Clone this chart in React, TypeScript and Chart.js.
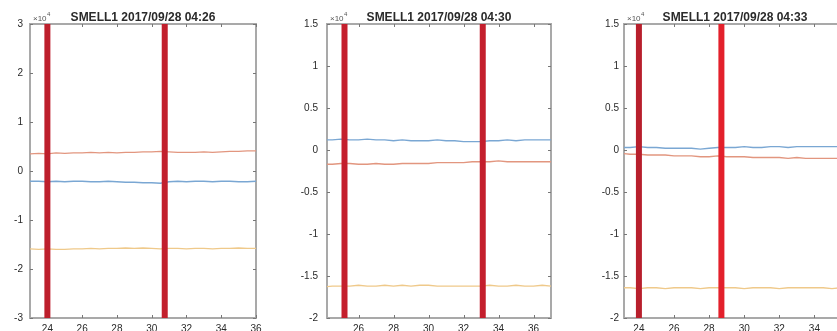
import React, { useEffect, useRef } from "react";
import { Chart, registerables } from "chart.js";
Chart.register(...registerables);

// ---- data (values in units of 10^4) ----
const xs = [23, 23.5, 24, 24.5, 25, 25.5, 26, 26.5, 27, 27.5, 28, 28.5, 29, 29.5, 30, 30.5, 31, 31.5, 32, 32.5, 33, 33.5, 34, 34.5, 35, 35.5, 36, 36.5, 37];

const titles = ["SMELL1 2017/09/28 04:26", "SMELL1 2017/09/28 04:30", "SMELL1 2017/09/28 04:33"];

const p1Red = [0.35, 0.36, 0.35, 0.37, 0.36, 0.37, 0.37, 0.38, 0.37, 0.38, 0.37, 0.38, 0.38, 0.39, 0.39, 0.40, 0.39, 0.38, 0.38, 0.38, 0.39, 0.38, 0.39, 0.40, 0.40, 0.41, 0.41, 0.41, 0.41];
const p1Blue = [-0.21, -0.21, -0.22, -0.21, -0.22, -0.21, -0.21, -0.22, -0.22, -0.21, -0.22, -0.23, -0.23, -0.24, -0.24, -0.25, -0.22, -0.21, -0.22, -0.21, -0.21, -0.22, -0.21, -0.21, -0.22, -0.22, -0.21, -0.21, -0.21];
const p1Yellow = [-1.59, -1.60, -1.59, -1.60, -1.60, -1.59, -1.59, -1.58, -1.59, -1.58, -1.58, -1.57, -1.58, -1.57, -1.58, -1.59, -1.58, -1.58, -1.59, -1.58, -1.58, -1.59, -1.58, -1.58, -1.57, -1.58, -1.58, -1.58, -1.58];

const p2Blue = [0.13, 0.13, 0.12, 0.12, 0.13, 0.12, 0.12, 0.13, 0.12, 0.12, 0.11, 0.12, 0.11, 0.11, 0.11, 0.12, 0.11, 0.11, 0.10, 0.10, 0.10, 0.11, 0.11, 0.12, 0.11, 0.12, 0.12, 0.12, 0.12];
const p2Red = [-0.17, -0.17, -0.17, -0.17, -0.16, -0.16, -0.17, -0.17, -0.16, -0.17, -0.17, -0.16, -0.16, -0.16, -0.16, -0.15, -0.15, -0.15, -0.15, -0.14, -0.14, -0.14, -0.13, -0.14, -0.14, -0.14, -0.14, -0.14, -0.14];
const p2Yellow = [-1.62, -1.62, -1.63, -1.62, -1.62, -1.62, -1.61, -1.62, -1.62, -1.61, -1.62, -1.61, -1.62, -1.61, -1.61, -1.62, -1.62, -1.62, -1.62, -1.62, -1.62, -1.61, -1.62, -1.62, -1.61, -1.62, -1.62, -1.61, -1.62];

const p3Blue = [0.03, 0.03, 0.04, 0.03, 0.03, 0.02, 0.02, 0.02, 0.02, 0.01, 0.02, 0.03, 0.03, 0.03, 0.04, 0.03, 0.03, 0.04, 0.04, 0.03, 0.04, 0.04, 0.04, 0.04, 0.04, 0.04, 0.04, 0.04, 0.04];
const p3Red = [-0.04, -0.05, -0.05, -0.06, -0.06, -0.06, -0.07, -0.07, -0.07, -0.08, -0.08, -0.07, -0.08, -0.08, -0.08, -0.09, -0.09, -0.09, -0.09, -0.10, -0.09, -0.10, -0.10, -0.10, -0.10, -0.10, -0.10, -0.10, -0.10];
const p3Yellow = [-1.64, -1.64, -1.65, -1.64, -1.64, -1.65, -1.64, -1.64, -1.64, -1.65, -1.64, -1.64, -1.64, -1.64, -1.65, -1.64, -1.64, -1.64, -1.65, -1.64, -1.64, -1.64, -1.64, -1.64, -1.65, -1.64, -1.64, -1.64, -1.64];

const p1Markers = [24.0, 30.75];
const p2Markers = [25.2, 33.1];
const p3Markers = [24.0, 28.7];

const p1XTicks = [24, 26, 28, 30, 32, 34, 36];
const p2XTicks = [26, 28, 30, 32, 34, 36];
const p3XTicks = [24, 26, 28, 30, 32, 34, 36];
const p1YTicks = [-3, -2, -1, 0, 1, 2, 3];
const p23YTicks = [-2, -1.5, -1, -0.5, 0, 0.5, 1, 1.5];

const p1XRange = [23, 36];
const p2XRange = [24.2, 37];
const p3XRange = [23.15, 35.8];
const p1YRange = [-3, 3];
const p23YRange = [-2, 1.5];

// ---- styles ----
const BLUE = "#7aa7d3";
const ORANGE = "#e2967f";
const YELLOW = "#efc98a";
const FRAME = "#a9a9a9";
const TEXT = "#2a2a2a";
const FONT = "'Liberation Sans', Arial, sans-serif";

type PanelCfg = {
  title: string;
  blue: number[];
  red: number[];
  yellow: number[];
  markers: number[];
  markerColors: string[];
  xTicks: number[];
  yTicks: number[];
  xRange: number[];
  yRange: number[];
  left: number;
  width: number;
  yAxisWidth: number;
  padRight: number;
  yPad: number;
};

const panels: PanelCfg[] = [
  { title: titles[0], blue: p1Blue, red: p1Red, yellow: p1Yellow, markers: p1Markers, markerColors: ["#bd1f2c", "#c2202d"], xTicks: p1XTicks, yTicks: p1YTicks, xRange: p1XRange, yRange: p1YRange, left: 0, width: 280, yAxisWidth: 30, padRight: 24, yPad: 7 },
  { title: titles[1], blue: p2Blue, red: p2Red, yellow: p2Yellow, markers: p2Markers, markerColors: ["#c41f2d", "#c41f2d"], xTicks: p2XTicks, yTicks: p23YTicks, xRange: p2XRange, yRange: p23YRange, left: 280, width: 290, yAxisWidth: 47, padRight: 19, yPad: 9 },
  { title: titles[2], blue: p3Blue, red: p3Red, yellow: p3Yellow, markers: p3Markers, markerColors: ["#b81f2c", "#e3202b"], xTicks: p3XTicks, yTicks: p23YTicks, xRange: p3XRange, yRange: p23YRange, left: 557, width: 310, yAxisWidth: 67, padRight: 21, yPad: 5 },
];

const CANVAS_H = 360;
const TOP = 24;
const BOTTOM = 318;

function Panel({ cfg }: { cfg: PanelCfg }) {
  const ref = useRef<HTMLCanvasElement>(null);
  useEffect(() => {
    if (!ref.current) return;
    const lineDs = (vals: number[], color: string) => ({
      type: "line" as const,
      data: xs.map((x, i) => ({ x, y: vals[i] })),
      borderColor: color,
      borderWidth: 1.4,
      pointRadius: 0,
      tension: 0,
      fill: false,
    });
    const markerDs = cfg.markers.map((m, i) => ({
      type: "line" as const,
      data: [
        { x: m, y: cfg.yRange[0] },
        { x: m, y: cfg.yRange[1] },
      ],
      borderColor: cfg.markerColors[i],
      borderWidth: 6,
      borderCapStyle: "butt" as const,
      pointRadius: 0,
      fill: false,
    }));

    const framePlugin = {
      id: "frame",
      beforeDatasetsDraw(chart: any) {
        const { ctx, chartArea: a, scales } = chart;
        ctx.save();
        ctx.strokeStyle = FRAME;
        ctx.lineWidth = 2;
        ctx.strokeRect(a.left, a.top, a.right - a.left, a.bottom - a.top);
        ctx.strokeStyle = "#777";
        ctx.lineWidth = 1;
        ctx.beginPath();
        for (const v of cfg.xTicks) {
          const px = Math.round(scales.x.getPixelForValue(v)) + 0.5;
          ctx.moveTo(px, a.bottom);
          ctx.lineTo(px, a.bottom - 3);
          ctx.moveTo(px, a.top);
          ctx.lineTo(px, a.top + 3);
        }
        for (const v of cfg.yTicks) {
          const py = Math.round(scales.y.getPixelForValue(v)) + 0.5;
          ctx.moveTo(a.left, py);
          ctx.lineTo(a.left + 3, py);
          ctx.moveTo(a.right, py);
          ctx.lineTo(a.right - 3, py);
        }
        ctx.stroke();
        ctx.restore();
      },
      afterDraw(chart: any) {
        const { ctx, chartArea: a } = chart;
        ctx.save();
        ctx.fillStyle = TEXT;
        ctx.font = `bold 12px ${FONT}`;
        ctx.textAlign = "center";
        ctx.textBaseline = "alphabetic";
        ctx.fillText(cfg.title, (a.left + a.right) / 2, 21);
        ctx.fillStyle = "#555";
        ctx.textAlign = "left";
        ctx.font = `8px ${FONT}`;
        ctx.fillText("\u00d710", a.left + 3, 21);
        const w = ctx.measureText("\u00d710").width;
        ctx.font = `6px ${FONT}`;
        ctx.fillText("4", a.left + 3 + w + 0.5, 16);
        ctx.restore();
      },
    };

    const chart = new Chart(ref.current, {
      type: "line",
      data: {
        datasets: [...markerDs, lineDs(cfg.blue, BLUE), lineDs(cfg.red, ORANGE), lineDs(cfg.yellow, YELLOW)] as any,
      },
      options: {
        animation: false,
        responsive: false,
        maintainAspectRatio: false,
        devicePixelRatio: 1,
        layout: { padding: { top: TOP, right: cfg.padRight, left: 0, bottom: 0 } },
        plugins: { legend: { display: false }, tooltip: { enabled: false }, title: { display: false } },
        scales: {
          x: {
            type: "linear",
            min: cfg.xRange[0],
            max: cfg.xRange[1],
            grid: { display: false, drawTicks: false },
            border: { display: false },
            afterBuildTicks: (s: any) => {
              s.ticks = cfg.xTicks.map((v) => ({ value: v }));
            },
            afterFit: (s: any) => {
              s.height = CANVAS_H - BOTTOM;
            },
            ticks: {
              autoSkip: false,
              maxRotation: 0,
              padding: 5,
              color: TEXT,
              font: { family: FONT, size: 10 },
              callback: (v: any) => String(v),
            },
          },
          y: {
            type: "linear",
            min: cfg.yRange[0],
            max: cfg.yRange[1],
            grid: { display: false, drawTicks: false },
            border: { display: false },
            afterBuildTicks: (s: any) => {
              s.ticks = cfg.yTicks.map((v) => ({ value: v }));
            },
            afterFit: (s: any) => {
              s.width = cfg.yAxisWidth;
            },
            ticks: {
              autoSkip: false,
              padding: cfg.yPad,
              color: TEXT,
              font: { family: FONT, size: 10 },
              callback: (v: any) => String(v),
            },
          },
        },
      },
      plugins: [framePlugin],
    });
    return () => chart.destroy();
  }, [cfg]);

  return (
    <canvas
      ref={ref}
      width={cfg.width}
      height={CANVAS_H}
      style={{ position: "absolute", left: cfg.left, top: 0, width: cfg.width, height: CANVAS_H }}
    />
  );
}

export default function App() {
  return (
    <div
      style={{
        position: "absolute",
        left: 0,
        top: 0,
        width: 837,
        height: 331,
        overflow: "hidden",
        background: "#ffffff",
      }}
    >
      {panels.map((p, i) => (
        <Panel key={i} cfg={p} />
      ))}
    </div>
  );
}
